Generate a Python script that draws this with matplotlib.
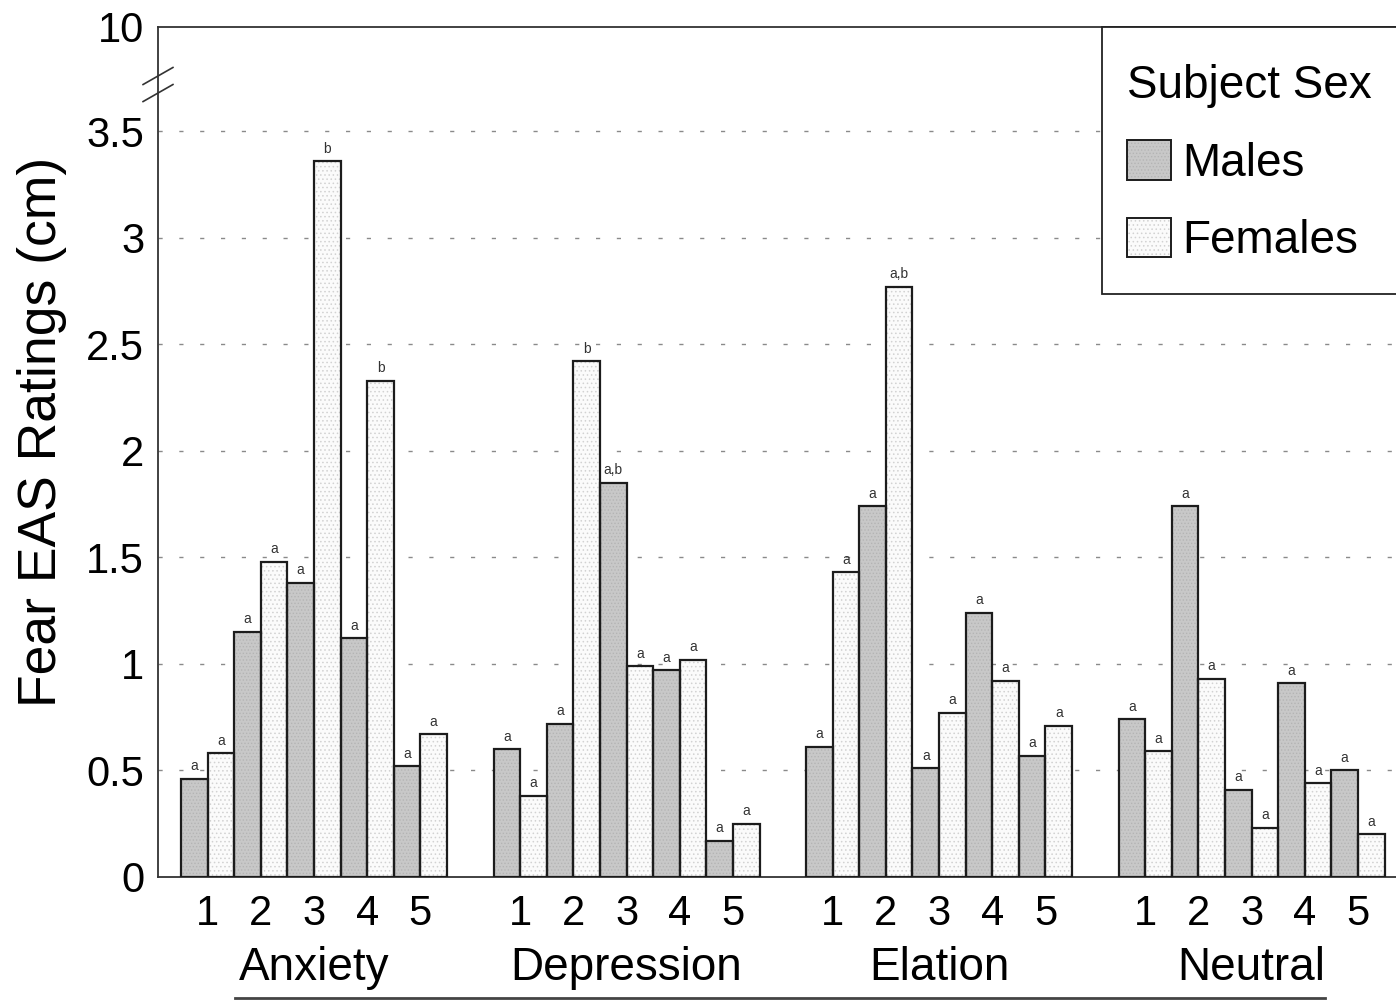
import numpy as np
import matplotlib
matplotlib.use("Agg")
import matplotlib.pyplot as plt
from matplotlib.lines import Line2D
from matplotlib.patches import Patch, Rectangle

plt.rcParams['font.family'] = ['Liberation Sans', 'DejaVu Sans']
plt.rcParams['hatch.linewidth'] = 0.6

groups = ['Anxiety', 'Depression', 'Elation', 'Neutral']
items = ['1', '2', '3', '4', '5']

males = [
    [0.46, 1.15, 1.38, 1.12, 0.52],   # Anxiety
    [0.60, 0.72, 1.85, 0.97, 0.17],   # Depression
    [0.61, 1.74, 0.51, 1.24, 0.57],   # Elation
    [0.74, 1.74, 0.41, 0.91, 0.50],   # Neutral
]
females = [
    [0.58, 1.48, 3.36, 2.33, 0.67],
    [0.38, 2.42, 0.99, 1.02, 0.25],
    [1.43, 2.77, 0.77, 0.92, 0.71],
    [0.59, 0.93, 0.23, 0.44, 0.20],
]
male_letters = [
    ['a', 'a', 'a', 'a', 'a'],
    ['a', 'a', 'a,b', 'a', 'a'],
    ['a', 'a', 'a', 'a', 'a'],
    ['a', 'a', 'a', 'a', 'a'],
]
female_letters = [
    ['a', 'a', 'b', 'b', 'a'],
    ['a', 'b', 'a', 'a', 'a'],
    ['a', 'a,b', 'a', 'a', 'a'],
    ['a', 'a', 'a', 'a', 'a'],
]
yticks = [0, 0.5, 1, 1.5, 2, 2.5, 3, 3.5]
ytick_labels = ['0', '0.5', '1', '1.5', '2', '2.5', '3', '3.5']
top_label = '10'

group_step = 11.75
ymax = 3.99   # position of the broken-axis top (labelled 10)

fig = plt.figure(figsize=(13.96, 10.02), dpi=100)
ax = fig.add_axes([158/1396, 1-877/1002, 1.005-158/1396, (877-27)/1002])

male_face = '#c8c8c8'
female_face = '#fbfbfb'
edge = '#1c1c1c'

centers = []
for g in range(len(groups)):
    base = g*group_step + np.arange(len(items))*2
    m = np.array(males[g])
    f = np.array(females[g])
    ax.bar(base, m, width=1, align='edge', color=male_face, hatch='.....',
           edgecolor='#b4b4b4', linewidth=0, zorder=2)
    ax.bar(base+1, f, width=1, align='edge', color=female_face, hatch='....',
           edgecolor='#d2d2d2', linewidth=0, zorder=2)
    ax.bar(base, m, width=1, align='edge', fill=False, edgecolor=edge, linewidth=1.6, zorder=3)
    ax.bar(base+1, f, width=1, align='edge', fill=False, edgecolor=edge, linewidth=1.6, zorder=3)
    for i in range(len(items)):
        ax.annotate(male_letters[g][i], (base[i]+0.5, m[i]), xytext=(0, 4),
                    textcoords='offset points', ha='center', va='bottom',
                    fontsize=10, color='#333333')
        ax.annotate(female_letters[g][i], (base[i]+1.5, f[i]), xytext=(0, 4),
                    textcoords='offset points', ha='center', va='bottom',
                    fontsize=10, color='#333333')
    centers.extend(base+1)
    ax.text(g*group_step+5, -0.107, groups[g], transform=ax.get_xaxis_transform(),
            ha='center', va='center', fontsize=33)

ax.set_xlim(-0.865, 45.94)
ax.set_ylim(0, ymax)
ax.set_xticks(centers, items*len(groups))
ax.set_yticks(yticks + [ymax], ytick_labels + [top_label])
ax.tick_params(axis='x', length=0, pad=12, labelsize=30)
ax.tick_params(axis='y', length=0, pad=10, labelsize=30)

for y in yticks[1:]:
    ax.axhline(y, color='#8a8a8a', lw=1.0, ls=(0, (3, 12)), zorder=1)

for s in ['left', 'bottom', 'top']:
    ax.spines[s].set_linewidth(1.3)
    ax.spines[s].set_color('#333333')
ax.spines['right'].set_visible(False)

# axis break marks
for yb in [3.68, 3.76]:
    ax.plot([-0.012, 0.012], [yb-0.04, yb+0.04], transform=ax.get_yaxis_transform(),
            color='#333333', lw=1.2, clip_on=False)

fig.text(42/1396, 1-432/1002, 'Fear EAS Ratings (cm)', rotation=90,
         ha='center', va='center', fontsize=38.5)

# legend box (runs off the right edge like the original)
fig.add_artist(Rectangle((1102/1396, 1-294/1002), 300/1396, (294-27)/1002,
                         transform=fig.transFigure, facecolor='white',
                         edgecolor='#222222', linewidth=1.3, zorder=4))
handles = [
    (Patch(facecolor=male_face, hatch='.....', edgecolor='#b4b4b4', linewidth=0),
     Patch(fill=False, edgecolor=edge, linewidth=1.4)),
    (Patch(facecolor=female_face, hatch='....', edgecolor='#d2d2d2', linewidth=0),
     Patch(fill=False, edgecolor=edge, linewidth=1.4)),
]
leg = fig.legend(handles, ['Males', 'Females'], title='Subject Sex',
                 loc='upper left', bbox_to_anchor=(1102/1396, 1-39/1002),
                 borderaxespad=0, frameon=False,
                 fontsize=33, title_fontsize=33,
                 handlelength=0.95, handleheight=0.95,
                 handletextpad=0.25, labelspacing=0.7, borderpad=0.55,
                 alignment='left')
leg.set_zorder(5)

fig.add_artist(Line2D([235/1396, 1325/1396], [1-998/1002, 1-998/1002],
                      color='#444444', lw=2))

fig.savefig('out.png', dpi=100)
